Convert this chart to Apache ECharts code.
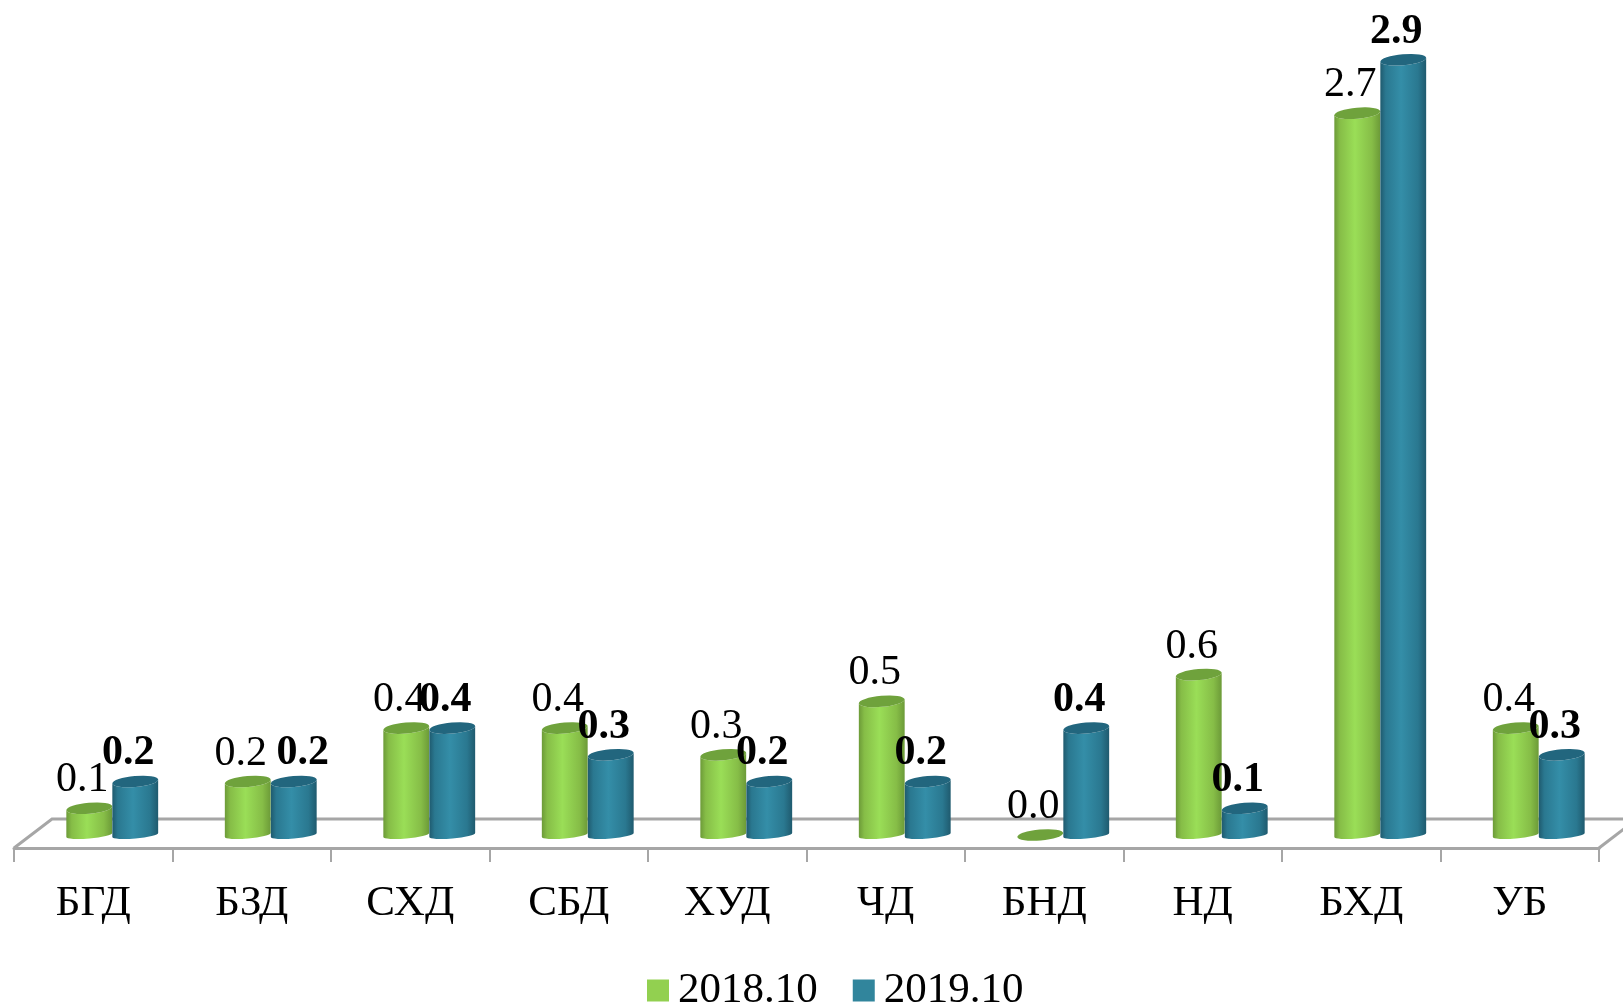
<!DOCTYPE html>
<html>
<head>
<meta charset="utf-8">
<title>chart</title>
<script src="https://cdn.jsdelivr.net/npm/echarts@6/dist/echarts.min.js"></script>
<style>
html, body { margin: 0; padding: 0; background: #fff; }
#main { width: 1623px; height: 1005px; }
</style>
</head>
<body>
<div id="main"></div>
<script>
var categories = ['БГД', 'БЗД', 'СХД', 'СБД', 'ХУД', 'ЧД', 'БНД', 'НД', 'БХД', 'УБ'];
var series2018 = [0.1, 0.2, 0.4, 0.4, 0.3, 0.5, 0.0, 0.6, 2.7, 0.4];
var series2019 = [0.2, 0.2, 0.4, 0.3, 0.2, 0.2, 0.4, 0.1, 2.9, 0.3];

var fontName = '"Liberation Serif", "Times New Roman", serif';
var lineColor = '#a6a6a6';
var barWidth = 46;
var barShift = 19;   // the pair sits right of the band centre, as on the 3d floor
var tilt = -5;
var axisDrop = 13;   // front edge of the floor below the zero line

function toData(values) {
    var out = [];
    for (var i in values) {
        out.push([categories[i], values[i]]);
    }
    return out;
}

function ellipsePath(cx, cy, rx, ry) {
    var a = tilt * Math.PI / 180;
    var dx = rx * Math.cos(a);
    var dy = rx * Math.sin(a);
    return 'M' + (cx - dx) + ' ' + (cy - dy) +
        'A' + rx + ' ' + ry + ' ' + tilt + ' 1 1 ' + (cx + dx) + ' ' + (cy + dy) +
        'A' + rx + ' ' + ry + ' ' + tilt + ' 1 1 ' + (cx - dx) + ' ' + (cy - dy) + 'Z';
}

function bodyPath(cx, top, bottom, rx, ry, bottomRy) {
    var a = tilt * Math.PI / 180;
    var dx = rx * Math.cos(a);
    var dy = rx * Math.sin(a);
    return 'M' + (cx - dx) + ' ' + (top - dy) +
        'L' + (cx - dx) + ' ' + (bottom - dy) +
        'A' + rx + ' ' + bottomRy + ' ' + tilt + ' 0 0 ' + (cx + dx) + ' ' + (bottom + dy) +
        'L' + (cx + dx) + ' ' + (top + dy) +
        'A' + rx + ' ' + ry + ' ' + tilt + ' 0 1 ' + (cx - dx) + ' ' + (top - dy) + 'Z';
}

function cylinderRender(side, colors, bold, labelNudge) {
    return function(params, api) {
        var value = api.value(1);
        var top = api.coord([api.value(0), value]);
        var base = api.coord([api.value(0), 0]);
        var cx = top[0] + barShift + side * barWidth / 2;
        var rx = barWidth / 2;
        var ry = 5.5;
        var children = [];
        if (value > 0) {
            children.push({
                type: 'path',
                shape: {pathData: bodyPath(cx, top[1], base[1], rx, ry, 3.5)},
                style: {
                    fill: new echarts.graphic.LinearGradient(0, 0, 1, 0, [
                        {offset: 0, color: colors[0]},
                        {offset: 0.12, color: colors[1]},
                        {offset: 0.45, color: colors[2]},
                        {offset: 0.82, color: colors[1]},
                        {offset: 1, color: colors[0]}
                    ])
                }
            });
        }
        children.push({
            type: 'path',
            shape: {pathData: ellipsePath(cx, top[1], rx, ry)},
            style: {fill: colors[3]}
        });
        children.push({
            type: 'text',
            z2: 10,
            style: {
                x: cx - 7 + (labelNudge[params.dataIndex] || 0),
                y: top[1] - 28,
                text: value.toFixed(1),
                align: 'center',
                verticalAlign: 'middle',
                fill: '#000',
                font: (bold ? 'bold ' : '') + '42px ' + fontName
            }
        });
        return {type: 'group', children: children};
    };
}

function floorRender(params, api) {
    var g = params.coordSys;
    var base = g.y + g.height;
    var front = base + axisDrop;
    var back = front - 29;
    var depth = 38;
    var rightEnd = g.x + g.width + 25;
    return {
        type: 'group',
        children: [{
            type: 'polyline',
            shape: {points: [[g.x, front], [g.x + depth, back], [rightEnd, back]]},
            style: {stroke: lineColor, lineWidth: 3, fill: null}
        }, {
            type: 'line',
            shape: {x1: g.x + g.width, y1: front, x2: rightEnd, y2: front - 25 * 29 / depth},
            style: {stroke: lineColor, lineWidth: 3}
        }]
    };
}

var chart = echarts.init(document.getElementById('main'), null, {renderer: 'canvas'});
chart.setOption({
    animation: false,
    backgroundColor: '#fff',
    grid: {left: 14, width: 1585, top: 33, height: 802, containLabel: false},
    legend: {
        data: ['2018.10', '2019.10'],
        left: 642,
        top: 964,
        icon: 'rect',
        itemWidth: 22,
        itemHeight: 22,
        itemGap: 35,
        textStyle: {
            fontFamily: fontName,
            fontSize: 43,
            color: '#000',
            padding: [0, 0, 0, 4]
        }
    },
    xAxis: {
        type: 'category',
        data: categories,
        offset: axisDrop,
        axisLine: {onZero: false, lineStyle: {color: lineColor, width: 3}},
        axisTick: {show: true, length: 14, lineStyle: {color: lineColor, width: 2}},
        axisLabel: {
            interval: 0,
            margin: 34,
            fontFamily: fontName,
            fontSize: 43,
            color: '#000'
        }
    },
    yAxis: {type: 'value', min: 0, max: 3, show: false},
    series: [{
        type: 'custom',
        name: 'floor',
        z: 1,
        silent: true,
        data: [[categories[0], 0]],
        encode: {x: 0, y: 1},
        renderItem: floorRender
    }, {
        type: 'custom',
        name: '2018.10',
        z: 2,
        itemStyle: {color: '#92d050'},
        data: toData(series2018),
        encode: {x: 0, y: 1},
        renderItem: cylinderRender(-1, ['#6c9a38', '#86bd47', '#9ade57', '#6fa23c'], false, {})
    }, {
        type: 'custom',
        name: '2019.10',
        z: 3,
        itemStyle: {color: '#31859c'},
        data: toData(series2019),
        encode: {x: 0, y: 1},
        // the БЗД label sits clear of its neighbour in the original
        renderItem: cylinderRender(1, ['#1f5a6e', '#2a7890', '#348ea8', '#22667e'], true, {1: 16})
    }]
});
</script>
</body>
</html>
